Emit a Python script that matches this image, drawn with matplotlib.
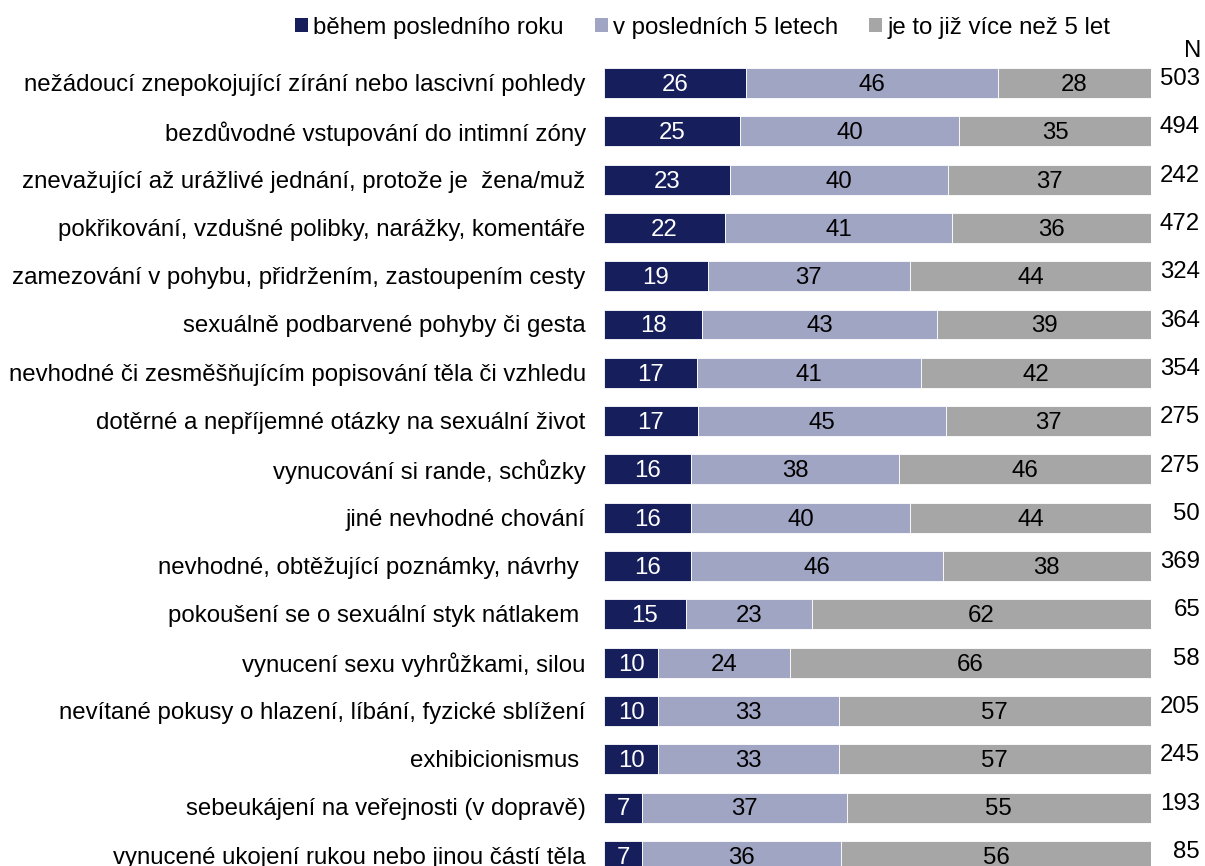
import matplotlib.pyplot as plt
from matplotlib.patches import Patch

plt.rcParams['font.family'] = ['Liberation Sans', 'DejaVu Sans']

# data
categories = [
    "nežádoucí znepokojující zírání nebo lascivní pohledy",
    "bezdůvodné vstupování do intimní zóny",
    "znevažující až urážlivé jednání, protože je  žena/muž",
    "pokřikování, vzdušné polibky, narážky, komentáře",
    "zamezování v pohybu, přidržením, zastoupením cesty",
    "sexuálně podbarvené pohyby či gesta",
    "nevhodné či zesměšňujícím popisování těla či vzhledu",
    "dotěrné a nepříjemné otázky na sexuální život",
    "vynucování si rande, schůzky",
    "jiné nevhodné chování",
    "nevhodné, obtěžující poznámky, návrhy ",
    "pokoušení se o sexuální styk nátlakem ",
    "vynucení sexu vyhrůžkami, silou",
    "nevítané pokusy o hlazení, líbání, fyzické sblížení",
    "exhibicionismus ",
    "sebeukájení na veřejnosti (v dopravě)",
    "vynucené ukojení rukou nebo jinou částí těla",
]
last_year = [26, 25, 23, 22, 19, 18, 17, 17, 16, 16, 16, 15, 10, 10, 10, 7, 7]
last_5 = [46, 40, 40, 41, 37, 43, 41, 45, 38, 40, 46, 23, 24, 33, 33, 37, 36]
older = [28, 35, 37, 36, 44, 39, 42, 37, 46, 44, 38, 62, 66, 57, 57, 55, 56]
n_vals = [503, 494, 242, 472, 324, 364, 354, 275, 275, 50, 369, 65, 58, 205, 245, 193, 85]

series_names = ["během posledního roku", "v posledních 5 letech", "je to již více než 5 let"]
colors = ["#161f5c", "#a1a5c4", "#a6a6a6"]
text_colors = ["white", "black", "black"]

fig = plt.figure(figsize=(12.05, 8.66), dpi=100)
ax = fig.add_axes([0.501, 0.0, 0.454, 1.0])

fs = 17.3
y = list(range(len(categories)))
# rounded labels do not always sum to 100, bars are drawn as shares of the row total
totals = [a + b + c for a, b, c in zip(last_year, last_5, older)]
left = [0] * len(categories)
for vals, col, tcol in zip([last_year, last_5, older], colors, text_colors):
    widths = [v * 100 / t for v, t in zip(vals, totals)]
    bars = ax.barh(y, widths, left=left, height=0.62, color=col,
                   edgecolor="white", linewidth=0.6)
    for b, v in zip(bars, vals):
        ax.text(b.get_x() + b.get_width() / 2, b.get_y() + b.get_height() / 2 + 0.04,
                str(v), ha="center", va="center", color=tcol, fontsize=fs)
    left = [l + w for l, w in zip(left, widths)]

ax.set_xlim(0, 100)
ax.set_ylim(16.21, -1.718)
ax.axis("off")

# category labels
for i, c in enumerate(categories):
    ax.text(-3.3, i + 0.04, c, ha="right", va="center", fontsize=fs, color="black")

# N column
for i, n in enumerate(n_vals):
    ax.text(109, i - 0.08, str(n), ha="right", va="center", fontsize=fs, color="black")
ax.text(107.6, -0.66, "N", ha="center", va="center", fontsize=fs)

handles = [Patch(facecolor=c, label=s) for c, s in zip(colors, series_names)]
fig.legend(handles=handles, loc="center", bbox_to_anchor=(0.583, 0.968), ncol=3,
           frameon=False, fontsize=fs, handlelength=0.55, handleheight=0.55,
           handletextpad=0.2, columnspacing=1.3)

fig.savefig("out.png", dpi=100)
